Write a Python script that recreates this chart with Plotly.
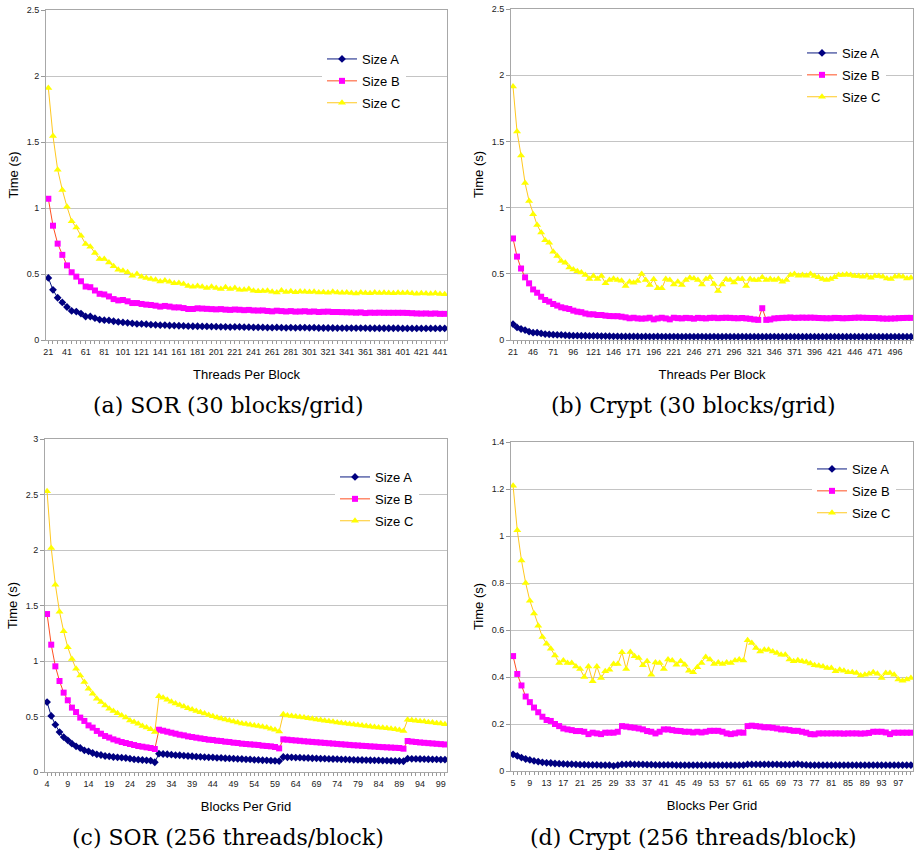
import plotly.graph_objects as go

# ---------------- data ----------------
# (a) SOR, 30 blocks/grid : threads per block
a_x = [21, 26, 31, 36, 41, 46, 51, 56, 61, 66, 71, 76, 81, 86, 91, 96, 101, 106, 111, 116,
       121, 126, 131, 136, 141, 146, 151, 156, 161, 166, 171, 176, 181, 186, 191, 196, 201, 206, 211, 216,
       221, 226, 231, 236, 241, 246, 251, 256, 261, 266, 271, 276, 281, 286, 291, 296, 301, 306, 311, 316,
       321, 326, 331, 336, 341, 346, 351, 356, 361, 366, 371, 376, 381, 386, 391, 396, 401, 406, 411, 416,
       421, 426, 431, 436, 441, 446]
a_A = [0.47, 0.38, 0.32, 0.285, 0.25, 0.22, 0.215, 0.2, 0.178, 0.178, 0.165, 0.155, 0.15, 0.148, 0.142, 0.137, 0.133, 0.13, 0.126, 0.122,
       0.122, 0.12, 0.116, 0.115, 0.112, 0.113, 0.11, 0.109, 0.108, 0.107, 0.105, 0.104, 0.104, 0.103, 0.103, 0.102, 0.101, 0.1, 0.1, 0.098,
       0.099, 0.099, 0.097, 0.097, 0.096, 0.096, 0.095, 0.094, 0.093, 0.095, 0.093, 0.092, 0.094, 0.092, 0.093, 0.094, 0.092, 0.093, 0.091, 0.091,
       0.091, 0.091, 0.09, 0.09, 0.09, 0.09, 0.09, 0.09, 0.09, 0.089, 0.089, 0.089, 0.089, 0.089, 0.089, 0.089, 0.088, 0.088, 0.088, 0.088,
       0.088, 0.088, 0.088, 0.088, 0.088, 0.088]
a_B = [1.07, 0.866, 0.73, 0.645, 0.565, 0.513, 0.48, 0.445, 0.405, 0.4, 0.375, 0.35, 0.345, 0.33, 0.31, 0.3, 0.303, 0.293, 0.28, 0.28,
       0.273, 0.268, 0.265, 0.26, 0.253, 0.258, 0.253, 0.247, 0.247, 0.242, 0.235, 0.235, 0.24, 0.238, 0.236, 0.234, 0.232, 0.234, 0.23, 0.228,
       0.231, 0.229, 0.226, 0.228, 0.224, 0.223, 0.224, 0.22, 0.217, 0.222, 0.219, 0.216, 0.219, 0.215, 0.216, 0.218, 0.214, 0.216, 0.212, 0.214,
       0.215, 0.212, 0.212, 0.211, 0.21, 0.209, 0.207, 0.209, 0.204, 0.207, 0.206, 0.207, 0.206, 0.206, 0.206, 0.206, 0.206, 0.205, 0.203, 0.201,
       0.2, 0.201, 0.199, 0.201, 0.198, 0.198]
a_C = [1.91, 1.545, 1.29, 1.137, 1.01, 0.9, 0.853, 0.79, 0.727, 0.707, 0.66, 0.614, 0.614, 0.588, 0.558, 0.533, 0.525, 0.513, 0.487, 0.5,
       0.48, 0.47, 0.462, 0.457, 0.444, 0.45, 0.442, 0.43, 0.432, 0.424, 0.41, 0.404, 0.41, 0.404, 0.394, 0.404, 0.394, 0.386, 0.4, 0.386,
       0.394, 0.38, 0.38, 0.386, 0.374, 0.37, 0.372, 0.374, 0.366, 0.36, 0.375, 0.364, 0.37, 0.362, 0.368, 0.366, 0.364, 0.366, 0.36, 0.362,
       0.358, 0.366, 0.36, 0.358, 0.36, 0.356, 0.352, 0.36, 0.356, 0.354, 0.36, 0.356, 0.358, 0.356, 0.354, 0.358, 0.356, 0.358, 0.354, 0.35,
       0.354, 0.352, 0.35, 0.354, 0.348, 0.346]
a_ticks = [21, 41, 61, 81, 101, 121, 141, 161, 181, 201, 221, 241, 261, 281, 301, 321, 341, 361, 381, 401, 421, 441]

# (b) Crypt, 30 blocks/grid : threads per block
b_x = [21, 26, 31, 36, 41, 46, 51, 56, 61, 66, 71, 76, 81, 86, 91, 96, 101, 106, 111, 116,
       121, 126, 131, 136, 141, 146, 151, 156, 161, 166, 171, 176, 181, 186, 191, 196, 201, 206, 211, 216,
       221, 226, 231, 236, 241, 246, 251, 256, 261, 266, 271, 276, 281, 286, 291, 296, 301, 306, 311, 316,
       321, 326, 331, 336, 341, 346, 351, 356, 361, 366, 371, 376, 381, 386, 391, 396, 401, 406, 411, 416,
       421, 426, 431, 436, 441, 446, 451, 456, 461, 466, 471, 476, 481, 486, 491, 496, 501, 506, 511, 516]
b_A = [0.12, 0.095, 0.083, 0.075, 0.063, 0.055, 0.055, 0.05, 0.045, 0.043, 0.04, 0.039, 0.038, 0.036, 0.034, 0.033, 0.033, 0.032, 0.032, 0.031,
       0.031, 0.031, 0.03, 0.03, 0.029, 0.028, 0.028, 0.027, 0.027, 0.027, 0.027, 0.027, 0.026, 0.027, 0.026, 0.026, 0.027, 0.026, 0.026, 0.026,
       0.026, 0.026, 0.025, 0.026, 0.026, 0.025, 0.026, 0.026, 0.025, 0.025, 0.026, 0.025, 0.025, 0.026, 0.025, 0.025, 0.025, 0.026, 0.025, 0.025,
       0.025, 0.025, 0.025, 0.025, 0.025, 0.026, 0.025, 0.025, 0.025, 0.025, 0.025, 0.025, 0.025, 0.025, 0.025, 0.025, 0.025, 0.025, 0.025, 0.025,
       0.025, 0.025, 0.025, 0.025, 0.025, 0.025, 0.025, 0.025, 0.025, 0.025, 0.025, 0.025, 0.025, 0.025, 0.025, 0.025, 0.025, 0.025, 0.025, 0.025]
b_B = [0.767, 0.63, 0.54, 0.473, 0.428, 0.382, 0.357, 0.327, 0.302, 0.29, 0.272, 0.26, 0.247, 0.24, 0.234, 0.222, 0.214, 0.21, 0.2, 0.194,
       0.194, 0.189, 0.189, 0.184, 0.181, 0.18, 0.18, 0.176, 0.171, 0.164, 0.168, 0.163, 0.161, 0.163, 0.168, 0.156, 0.163, 0.168, 0.163, 0.156,
       0.168, 0.165, 0.163, 0.167, 0.165, 0.161, 0.167, 0.165, 0.163, 0.167, 0.168, 0.165, 0.167, 0.168, 0.167, 0.165, 0.164, 0.166, 0.163, 0.16,
       0.155, 0.152, 0.24, 0.152, 0.155, 0.163, 0.165, 0.167, 0.168, 0.17, 0.167, 0.168, 0.169, 0.168, 0.169, 0.168, 0.166, 0.165, 0.164, 0.164,
       0.167, 0.166, 0.164, 0.165, 0.166, 0.168, 0.169, 0.168, 0.167, 0.166, 0.166, 0.164, 0.162, 0.161, 0.162, 0.163, 0.165, 0.166, 0.167, 0.167]
b_C = [1.914, 1.575, 1.394, 1.185, 1.05, 0.95, 0.868, 0.812, 0.754, 0.734, 0.666, 0.634, 0.596, 0.583, 0.548, 0.533, 0.52, 0.51, 0.49, 0.46,
       0.483, 0.46, 0.483, 0.428, 0.453, 0.463, 0.453, 0.448, 0.407, 0.44, 0.433, 0.445, 0.498, 0.453, 0.415, 0.458, 0.39, 0.39, 0.46, 0.453,
       0.42, 0.44, 0.415, 0.453, 0.47, 0.465, 0.453, 0.42, 0.46, 0.473, 0.423, 0.37, 0.42, 0.458, 0.453, 0.435, 0.46, 0.46, 0.407, 0.46,
       0.453, 0.453, 0.473, 0.453, 0.46, 0.453, 0.46, 0.44, 0.453, 0.49, 0.498, 0.485, 0.49, 0.485, 0.498, 0.483, 0.473, 0.46, 0.453, 0.46,
       0.473, 0.49, 0.49, 0.495, 0.49, 0.483, 0.483, 0.478, 0.485, 0.47, 0.483, 0.483, 0.478, 0.465, 0.46, 0.478, 0.483, 0.478, 0.465, 0.47]
b_ticks = [21, 46, 71, 96, 121, 146, 171, 196, 221, 246, 271, 296, 321, 346, 371, 396, 421, 446, 471, 496]

# (c) SOR, 256 threads/block : blocks per grid
c_x = [4, 5, 6, 7, 8, 9, 10, 11, 12, 13, 14, 15, 16, 17, 18, 19, 20, 21, 22, 23,
       24, 25, 26, 27, 28, 29, 30, 31, 32, 33, 34, 35, 36, 37, 38, 39, 40, 41, 42, 43,
       44, 45, 46, 47, 48, 49, 50, 51, 52, 53, 54, 55, 56, 57, 58, 59, 60, 61, 62, 63,
       64, 65, 66, 67, 68, 69, 70, 71, 72, 73, 74, 75, 76, 77, 78, 79, 80, 81, 82, 83,
       84, 85, 86, 87, 88, 89, 90, 91, 92, 93, 94, 95, 96, 97, 98, 99, 100]
c_A = [0.63, 0.505, 0.426, 0.36, 0.315, 0.285, 0.255, 0.231, 0.216, 0.195, 0.186, 0.171, 0.159, 0.153, 0.144, 0.141, 0.135, 0.132, 0.129, 0.126,
       0.12, 0.114, 0.111, 0.108, 0.105, 0.102, 0.088, 0.165, 0.162, 0.16, 0.156, 0.152, 0.151, 0.147, 0.144, 0.142, 0.138, 0.137, 0.134, 0.132,
       0.131, 0.128, 0.127, 0.124, 0.122, 0.121, 0.118, 0.117, 0.114, 0.113, 0.11, 0.109, 0.106, 0.105, 0.102, 0.101, 0.098, 0.135, 0.133, 0.132,
       0.13, 0.129, 0.127, 0.126, 0.124, 0.123, 0.121, 0.12, 0.118, 0.117, 0.116, 0.114, 0.113, 0.112, 0.11, 0.109, 0.108, 0.107, 0.106, 0.105,
       0.104, 0.103, 0.102, 0.101, 0.1, 0.099, 0.097, 0.12, 0.119, 0.118, 0.117, 0.116, 0.115, 0.114, 0.113, 0.112, 0.111]
c_B = [1.423, 1.147, 0.952, 0.82, 0.715, 0.646, 0.58, 0.54, 0.49, 0.46, 0.42, 0.4, 0.37, 0.345, 0.324, 0.31, 0.294, 0.282, 0.27, 0.261,
       0.252, 0.243, 0.234, 0.228, 0.222, 0.216, 0.207, 0.381, 0.372, 0.363, 0.354, 0.345, 0.336, 0.33, 0.321, 0.315, 0.309, 0.303, 0.297, 0.291,
       0.288, 0.282, 0.279, 0.273, 0.27, 0.264, 0.261, 0.255, 0.252, 0.249, 0.246, 0.243, 0.237, 0.234, 0.231, 0.225, 0.213, 0.294, 0.291, 0.287,
       0.284, 0.281, 0.277, 0.274, 0.271, 0.268, 0.265, 0.262, 0.259, 0.256, 0.253, 0.25, 0.247, 0.244, 0.241, 0.239, 0.236, 0.234, 0.231, 0.229,
       0.226, 0.224, 0.222, 0.22, 0.218, 0.216, 0.21, 0.279, 0.274, 0.27, 0.266, 0.263, 0.26, 0.257, 0.254, 0.251, 0.248]
c_C = [2.529, 2.018, 1.688, 1.444, 1.267, 1.123, 1.018, 0.93, 0.87, 0.81, 0.75, 0.705, 0.66, 0.63, 0.6, 0.57, 0.55, 0.53, 0.51, 0.49,
       0.465, 0.45, 0.435, 0.415, 0.4, 0.385, 0.36, 0.682, 0.67, 0.652, 0.634, 0.616, 0.604, 0.589, 0.574, 0.562, 0.55, 0.538, 0.526, 0.514,
       0.502, 0.492, 0.483, 0.474, 0.465, 0.456, 0.447, 0.438, 0.432, 0.426, 0.42, 0.414, 0.408, 0.402, 0.39, 0.38, 0.365, 0.52, 0.51, 0.505,
       0.5, 0.495, 0.49, 0.484, 0.479, 0.473, 0.468, 0.462, 0.457, 0.452, 0.447, 0.442, 0.437, 0.432, 0.427, 0.423, 0.419, 0.415, 0.41, 0.406,
       0.402, 0.398, 0.394, 0.39, 0.385, 0.378, 0.37, 0.471, 0.466, 0.462, 0.458, 0.454, 0.449, 0.445, 0.44, 0.436, 0.43]
c_ticks = [4, 9, 14, 19, 24, 29, 34, 39, 44, 49, 54, 59, 64, 69, 74, 79, 84, 89, 94, 99]

# (d) Crypt, 256 threads/block : blocks per grid
d_x = [5, 6, 7, 8, 9, 10, 11, 12, 13, 14, 15, 16, 17, 18, 19, 20, 21, 22, 23, 24,
       25, 26, 27, 28, 29, 30, 31, 32, 33, 34, 35, 36, 37, 38, 39, 40, 41, 42, 43, 44,
       45, 46, 47, 48, 49, 50, 51, 52, 53, 54, 55, 56, 57, 58, 59, 60, 61, 62, 63, 64,
       65, 66, 67, 68, 69, 70, 71, 72, 73, 74, 75, 76, 77, 78, 79, 80, 81, 82, 83, 84,
       85, 86, 87, 88, 89, 90, 91, 92, 93, 94, 95, 96, 97, 98, 99, 100]
d_A = [0.071, 0.064, 0.057, 0.051, 0.047, 0.043, 0.04, 0.037, 0.035, 0.034, 0.032, 0.031, 0.03, 0.029, 0.029, 0.028, 0.027, 0.027, 0.026, 0.026,
       0.026, 0.025, 0.025, 0.025, 0.022, 0.025, 0.028, 0.028, 0.029, 0.028, 0.028, 0.028, 0.027, 0.027, 0.026, 0.026, 0.026, 0.026, 0.026, 0.025,
       0.025, 0.025, 0.025, 0.025, 0.025, 0.025, 0.025, 0.025, 0.025, 0.025, 0.025, 0.025, 0.025, 0.025, 0.025, 0.025, 0.028, 0.028, 0.028, 0.028,
       0.028, 0.028, 0.028, 0.028, 0.027, 0.027, 0.027, 0.028, 0.029, 0.027, 0.026, 0.025, 0.025, 0.025, 0.025, 0.025, 0.025, 0.025, 0.025, 0.025,
       0.025, 0.025, 0.025, 0.025, 0.025, 0.025, 0.025, 0.025, 0.025, 0.025, 0.025, 0.025, 0.025, 0.025, 0.025, 0.025]
d_B = [0.489, 0.413, 0.364, 0.317, 0.293, 0.27, 0.25, 0.231, 0.217, 0.213, 0.2, 0.191, 0.181, 0.177, 0.174, 0.17, 0.17, 0.167, 0.157, 0.163,
       0.16, 0.157, 0.163, 0.163, 0.163, 0.167, 0.191, 0.189, 0.186, 0.184, 0.181, 0.177, 0.17, 0.167, 0.16, 0.167, 0.177, 0.177, 0.174, 0.171,
       0.17, 0.167, 0.167, 0.164, 0.167, 0.164, 0.167, 0.171, 0.171, 0.171, 0.167, 0.16, 0.157, 0.16, 0.164, 0.163, 0.191, 0.193, 0.191, 0.189,
       0.186, 0.186, 0.184, 0.181, 0.177, 0.177, 0.174, 0.171, 0.171, 0.167, 0.163, 0.157, 0.156, 0.16, 0.16, 0.16, 0.16, 0.16, 0.16, 0.159,
       0.16, 0.16, 0.16, 0.159, 0.16, 0.162, 0.167, 0.167, 0.167, 0.164, 0.157, 0.163, 0.163, 0.163, 0.163, 0.163]
d_C = [1.214, 1.024, 0.896, 0.8, 0.725, 0.67, 0.618, 0.57, 0.542, 0.52, 0.492, 0.46, 0.47, 0.46, 0.46, 0.445, 0.434, 0.4, 0.445, 0.382,
       0.445, 0.396, 0.424, 0.431, 0.455, 0.455, 0.505, 0.434, 0.506, 0.488, 0.481, 0.45, 0.467, 0.41, 0.462, 0.46, 0.434, 0.474, 0.47, 0.452,
       0.467, 0.452, 0.427, 0.42, 0.441, 0.46, 0.485, 0.474, 0.455, 0.462, 0.455, 0.462, 0.46, 0.47, 0.474, 0.47, 0.556, 0.545, 0.523, 0.509,
       0.516, 0.516, 0.509, 0.502, 0.495, 0.495, 0.474, 0.467, 0.471, 0.467, 0.464, 0.457, 0.45, 0.448, 0.445, 0.438, 0.438, 0.424, 0.431, 0.427,
       0.42, 0.42, 0.417, 0.406, 0.41, 0.414, 0.42, 0.414, 0.396, 0.417, 0.417, 0.41, 0.389, 0.384, 0.389, 0.396]
d_ticks = [5, 9, 13, 17, 21, 25, 29, 33, 37, 41, 45, 49, 53, 57, 61, 65, 69, 73, 77, 81, 85, 89, 93, 97]

series_names = ["Size A", "Size B", "Size C"]
captions = ["(a) SOR (30 blocks/grid)", "(b) Crypt (30 blocks/grid)",
            "(c) SOR (256 threads/block)", "(d) Crypt (256 threads/block)"]
x_titles = ["Threads Per Block", "Threads Per Block", "Blocks Per Grid", "Blocks Per Grid"]

for xs, ys in [(a_x, a_A), (a_x, a_B), (a_x, a_C), (b_x, b_A), (b_x, b_B), (b_x, b_C),
               (c_x, c_A), (c_x, c_B), (c_x, c_C), (d_x, d_A), (d_x, d_B), (d_x, d_C)]:
    assert len(xs) == len(ys), (len(xs), len(ys))

# ---------------- style / layout ----------------
W, H = 914, 851
def fx(p): return p / W
def fy(p): return 1 - p / H

styles = [
    dict(marker=dict(symbol="diamond", size=6, color="#000080"), line=dict(color="#0A1A80", width=1)),
    dict(marker=dict(symbol="square", size=6, color="#FF00FF"), line=dict(color="#FF5022", width=1)),
    dict(marker=dict(symbol="triangle-up", size=7, color="#FFFF00"), line=dict(color="#FFC820", width=1)),
]

panels = [
    dict(x=a_x, ys=[a_A, a_B, a_C], ticks=a_ticks, xr=[18.5, 448.5], yr=[0, 2.5], dt=0.5,
         px=(46, 447), py=(10, 340), leg=(322, 44), cap=(228, 405)),
    dict(x=b_x, ys=[b_A, b_B, b_C], ticks=b_ticks, xr=[18.5, 518.5], yr=[0, 2.5], dt=0.5,
         px=(511, 913), py=(9, 340), leg=(802, 38), cap=(693, 405)),
    dict(x=c_x, ys=[c_A, c_B, c_C], ticks=c_ticks, xr=[3.5, 100.5], yr=[0, 3], dt=0.5,
         px=(45, 447), py=(439, 772), leg=(335, 462), cap=(228, 837)),
    dict(x=d_x, ys=[d_A, d_B, d_C], ticks=d_ticks, xr=[4.5, 100.5], yr=[0, 1.4], dt=0.2,
         px=(511, 913), py=(442, 771), leg=(812, 454), cap=(693, 837)),
]

fig = go.Figure()
layout = dict(width=W, height=H, margin=dict(l=0, r=0, t=0, b=0, autoexpand=False),
              paper_bgcolor="white", plot_bgcolor="white",
              font=dict(family="Liberation Sans, Arial, sans-serif", color="#000000"),
              annotations=[])

tickfont = dict(family="Liberation Sans, Arial, sans-serif", size=9, color="#222222")
for i, p in enumerate(panels):
    n = "" if i == 0 else str(i + 1)
    legname = "legend" + n
    for j in range(3):
        fig.add_trace(go.Scatter(
            x=p["x"], y=p["ys"][j], name=series_names[j], mode="lines+markers",
            marker=dict(**styles[j]["marker"], line=dict(width=0)), line=styles[j]["line"],
            xaxis="x" + n, yaxis="y" + n, legend=legname, legendgroup=f"{i}{j}",
        ))
    layout["xaxis" + n] = dict(
        domain=[fx(p["px"][0]), fx(p["px"][1])], anchor="y" + n, range=p["xr"], automargin=False,
        tickmode="array", tickvals=p["ticks"], ticktext=[str(t) for t in p["ticks"]],
        ticks="outside", ticklen=3, tickcolor="#999999", tickfont=tickfont,
        minor=dict(tickmode="array", tickvals=p["x"], ticks="outside", ticklen=3, tickcolor="#999999", showgrid=False),
        showgrid=False, zeroline=False, showline=True, linecolor="#A8A8A8", linewidth=1, mirror=True,
        title=dict(text=x_titles[i], font=dict(size=13, color="#000000"), standoff=14),
    )
    layout["yaxis" + n] = dict(
        domain=[fy(p["py"][1]), fy(p["py"][0])], anchor="x" + n, range=p["yr"], automargin=False,
        tickmode="linear", tick0=0, dtick=p["dt"],
        ticks="outside", ticklen=4, tickcolor="#999999", tickfont=tickfont,
        showgrid=True, gridcolor="#C4C4C4", gridwidth=1,
        zeroline=False, showline=True, linecolor="#A8A8A8", linewidth=1, mirror=True,
        title=dict(text="Time (s)", font=dict(size=13, color="#000000"), standoff=5),
    )
    layout[legname] = dict(
        x=fx(p["leg"][0]), y=fy(p["leg"][1]), xanchor="left", yanchor="top",
        bgcolor="white", borderwidth=0, tracegroupgap=2,
        font=dict(family="Liberation Sans, Arial, sans-serif", size=13, color="#000000"),
    )
    layout["annotations"].append(dict(
        text=captions[i], xref="paper", yref="paper", x=fx(p["cap"][0]), y=fy(p["cap"][1]),
        xanchor="center", yanchor="middle", showarrow=False,
        font=dict(family="DejaVu Serif, serif", size=22, color="#000000"),
    ))

fig.update_layout(**layout)
# remove the browser's default 8px body margin so the figure fills the window exactly
fig.write_html("out.html", config={"displayModeBar": False},
               post_script="document.body.style.margin='0px';document.body.style.overflow='hidden';")
